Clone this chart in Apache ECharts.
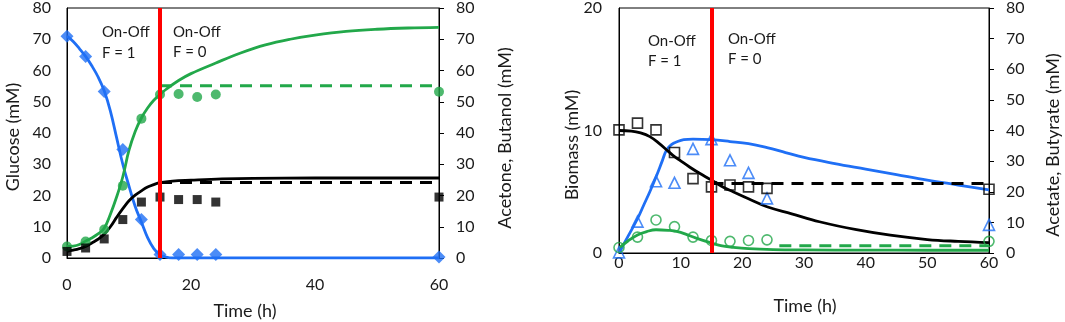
<!DOCTYPE html>
<html>
<head>
<meta charset="utf-8">
<script src="https://cdn.jsdelivr.net/npm/echarts@6/dist/echarts.min.js"></script>
<style>
html,body{margin:0;padding:0;background:#fff;}
#c{width:1065px;height:322px;}
</style>
</head>
<body>
<div id="c"></div>
<script>
// ---------- Left panel: glucose (left axis), acetone & butanol (right axis) ----------
const leftObsTime = [0, 3, 6, 9, 12, 15, 18, 21, 24, 60];
const glucoseObs  = [71, 64.5, 53.3, 34.7, 12.3, 1.1, 1.1, 1.1, 1.1, 0.3];
const butanolObs  = [3.7, 5.3, 9.1, 23.1, 44.6, 52.3, 52.5, 51.5, 52.3, 53.2];
const acetoneObs  = [2.1, 3.2, 6.1, 12.3, 17.9, 19.5, 18.7, 18.7, 17.9, 19.5];

const glucoseModelT = [0, 1, 2, 3, 4, 5, 6, 7, 8, 9, 10, 11, 12, 13, 14, 15, 16, 17, 20, 30, 40, 50, 60];
const glucoseModelY = [71, 69.3, 67, 64.5, 61.5, 58, 53.5, 47, 38.5, 30, 23, 16.5, 11.5, 6.5, 3, 1, 0.3, 0, 0, 0, 0, 0, 0];

const butanolModelT = [0, 1, 2, 3, 4, 5, 6, 7, 8, 9, 10, 11, 12, 13, 14, 15, 16, 18, 20, 24, 28, 32, 36, 40, 45, 50, 55, 60];
const butanolModelY = [3.7, 3.8, 4.3, 5.4, 6.4, 7.7, 9.5, 14, 19.5, 26, 34.5, 40.5, 44.8, 48, 50.5, 52.3, 54, 56.8, 59, 62.4, 65.6, 68.2, 70, 71.3, 72.5, 73.2, 73.6, 73.8];

const acetoneModelT = [0, 1, 2, 3, 4, 5, 6, 7, 8, 9, 10, 11, 12, 13, 14, 15, 17, 20, 25, 30, 40, 50, 60];
const acetoneModelY = [2.1, 2.5, 3.0, 3.7, 4.8, 6.0, 7.6, 10.0, 13.0, 15.8, 18.3, 20.1, 21.5, 22.7, 23.5, 24.1, 24.6, 24.9, 25.3, 25.5, 25.6, 25.6, 25.6];

const leftDashT   = [15, 60];
const butanolDash = [55.1, 55.1];
const acetoneDash = [24.2, 24.2];

// ---------- Right panel: biomass (left axis), acetate & butyrate (right axis) ----------
const rightObsTime = [0, 3, 6, 9, 12, 15, 18, 21, 24, 60];
const biomassObs   = [0.05, 2.56, 5.86, 5.73, 8.5, 9.3, 7.57, 6.54, 4.46, 2.3];
const acetateObs   = [40.2, 42.4, 40.2, 32.8, 24.3, 21.6, 22.2, 21.6, 21.1, 20.8];
const butyrateObs  = [1.8, 5.2, 10.8, 8.6, 5.2, 4.1, 3.8, 4.1, 4.3, 3.8];

const biomassModelT = [0, 1.5, 3, 4, 5, 6, 7, 7.7, 8.5, 9.5, 10.5, 12, 15, 18, 21, 24, 27, 30, 35, 40, 45, 50, 55, 60];
const biomassModelY = [0, 1.4, 2.8, 3.9, 5.0, 6.2, 7.5, 8.4, 8.85, 9.1, 9.25, 9.3, 9.25, 9.1, 8.92, 8.6, 8.2, 7.8, 7.3, 6.85, 6.4, 5.95, 5.55, 5.15];

const acetateModelT = [0, 2, 3.5, 5, 6.5, 8, 9, 10, 11.5, 13, 15, 17, 18.5, 21, 24, 28, 32.5, 38.5, 44, 50, 55, 60];
const acetateModelY = [40, 39.8, 39.2, 38, 35.8, 33.2, 31.5, 30.1, 28, 26.1, 23.8, 21.4, 20, 17.7, 15.1, 12.8, 10.2, 7.6, 5.8, 4.4, 3.8, 3.4];

const butyrateModelT = [0, 1.5, 3, 4.5, 6, 8, 9.5, 11, 12.5, 15, 16.5, 18.5, 21, 25, 30, 40, 50, 60];
const butyrateModelY = [1.6, 4.0, 5.9, 7.0, 7.6, 7.4, 7.0, 6.0, 4.85, 3.25, 2.4, 1.85, 1.4, 1.1, 1.0, 0.95, 0.9, 0.9];

const acetateDashT  = [15, 60];
const acetateDash   = [22.7, 22.7];
const butyrateDashT = [26, 60];
const butyrateDash  = [2.4, 2.4];

const switchTime = 15;

// ---------- styling ----------
const BLUE = '#1f6ff5', GREEN = '#22a84a', BLACK = '#000', RED = '#ff0000';
const FONT = 'Lato';
const TXT = '#1a1a1a';

function pairs(t, y) { return t.map((v, i) => [v, y[i]]); }

function lineSeries(x, yi, t, y, color, dashed) {
  return {
    type: 'line', xAxisIndex: x, yAxisIndex: yi, data: pairs(t, y),
    showSymbol: false, smooth: dashed ? false : 0.4,
    lineStyle: { color: color, width: dashed ? 3 : 2.8, type: dashed ? [12, 8] : 'solid' },
    silent: true, z: 2
  };
}
function scatterSeries(x, yi, t, y, symbol, size, color, hollow) {
  return {
    type: 'scatter', xAxisIndex: x, yAxisIndex: yi, data: pairs(t, y),
    symbol: symbol, symbolSize: size,
    itemStyle: hollow ? { color: 'rgba(255,255,255,0)', borderColor: color, borderWidth: 1.6 } : { color: color },
    silent: true, z: 4
  };
}
function redLine(x, yi) {
  return {
    type: 'line', xAxisIndex: x, yAxisIndex: yi, data: [],
    markLine: {
      silent: true, symbol: ['none', 'none'], label: { show: false },
      lineStyle: { color: RED, width: 4, type: 'solid' },
      data: [{ xAxis: switchTime }]
    }, z: 3
  };
}

const labelStyle = { color: TXT, fontFamily: FONT, fontSize: 16 };

function xAx(gi, interval, margin) {
  return {
    gridIndex: gi, type: 'value', min: 0, max: 60, interval: interval,
    axisLine: { show: true, lineStyle: { color: '#000', width: 1 } },
    axisTick: { show: false }, splitLine: { show: false },
    axisLabel: Object.assign({ margin: margin }, labelStyle)
  };
}
function yAx(gi, pos, max, interval, ticks, margin) {
  return {
    gridIndex: gi, type: 'value', position: pos, min: 0, max: max, interval: interval,
    axisLine: { show: true, onZero: false, lineStyle: { color: '#000', width: 1 } },
    axisTick: { show: ticks, inside: false, length: 5, lineStyle: { color: '#000' } },
    splitLine: { show: false },
    axisLabel: Object.assign({ margin: margin }, labelStyle)
  };
}

function txt(x, y, s, size, rot, align) {
  return {
    type: 'text', x: x, y: y, rotation: rot || 0, silent: true,
    style: { text: s, fill: TXT, font: size + 'px ' + FONT, align: align || 'center', verticalAlign: 'middle' }
  };
}

const chart = echarts.init(document.getElementById('c'), null, { renderer: 'canvas' });
chart.setOption({
  animation: false,
  backgroundColor: '#fff',
  grid: [
    { left: 67, top: 8, width: 372, height: 250, show: true, borderColor: '#000', borderWidth: 1, backgroundColor: 'transparent' },
    { left: 619, top: 7, width: 370, height: 246, show: true, borderColor: '#000', borderWidth: 1, backgroundColor: 'transparent' }
  ],
  xAxis: [xAx(0, 20, 19), xAx(1, 10, 2)],
  yAxis: [
    yAx(0, 'left', 80, 10, false, 16),
    yAx(0, 'right', 80, 10, true, 17),
    yAx(1, 'left', 20, 10, false, 17),
    yAx(1, 'right', 80, 10, true, 17)
  ],
  series: [
    redLine(0, 0),
    lineSeries(0, 0, glucoseModelT, glucoseModelY, BLUE),
    lineSeries(0, 1, butanolModelT, butanolModelY, GREEN),
    lineSeries(0, 1, acetoneModelT, acetoneModelY, BLACK),
    lineSeries(0, 1, leftDashT, butanolDash, GREEN, true),
    lineSeries(0, 1, leftDashT, acetoneDash, BLACK, true),
    scatterSeries(0, 0, leftObsTime, glucoseObs, 'diamond', 13, BLUE),
    scatterSeries(0, 1, leftObsTime, butanolObs, 'circle', 10, GREEN),
    scatterSeries(0, 1, leftObsTime, acetoneObs, 'rect', 9, BLACK),

    redLine(1, 2),
    lineSeries(1, 2, biomassModelT, biomassModelY, BLUE),
    lineSeries(1, 3, acetateModelT, acetateModelY, BLACK),
    lineSeries(1, 3, butyrateModelT, butyrateModelY, GREEN),
    lineSeries(1, 3, acetateDashT, acetateDash, BLACK, true),
    lineSeries(1, 3, butyrateDashT, butyrateDash, GREEN, true),
    scatterSeries(1, 2, rightObsTime, biomassObs, 'triangle', 11, BLUE, true),
    scatterSeries(1, 3, rightObsTime, acetateObs, 'rect', 10, BLACK, true),
    scatterSeries(1, 3, rightObsTime, butyrateObs, 'circle', 10, GREEN, true)
  ],
  graphic: [
    txt(13, 137, 'Glucose (mM)', 18, Math.PI / 2),
    txt(505, 138, 'Acetone, Butanol (mM)', 18, Math.PI / 2),
    txt(245, 311, 'Time (h)', 18),
    txt(572, 145, 'Biomass (mM)', 18, Math.PI / 2),
    txt(1053, 145, 'Acetate, Butyrate (mM)', 18, Math.PI / 2),
    txt(805, 306, 'Time (h)', 18),
    txt(102, 32, 'On-Off', 15, 0, 'left'),
    txt(102, 53, 'F = 1', 15, 0, 'left'),
    txt(173, 32, 'On-Off', 15, 0, 'left'),
    txt(173, 52, 'F = 0', 15, 0, 'left'),
    txt(648, 41, 'On-Off', 15, 0, 'left'),
    txt(648, 61, 'F = 1', 15, 0, 'left'),
    txt(728, 39, 'On-Off', 15, 0, 'left'),
    txt(728, 59, 'F = 0', 15, 0, 'left')
  ]
});
</script>
</body>
</html>
